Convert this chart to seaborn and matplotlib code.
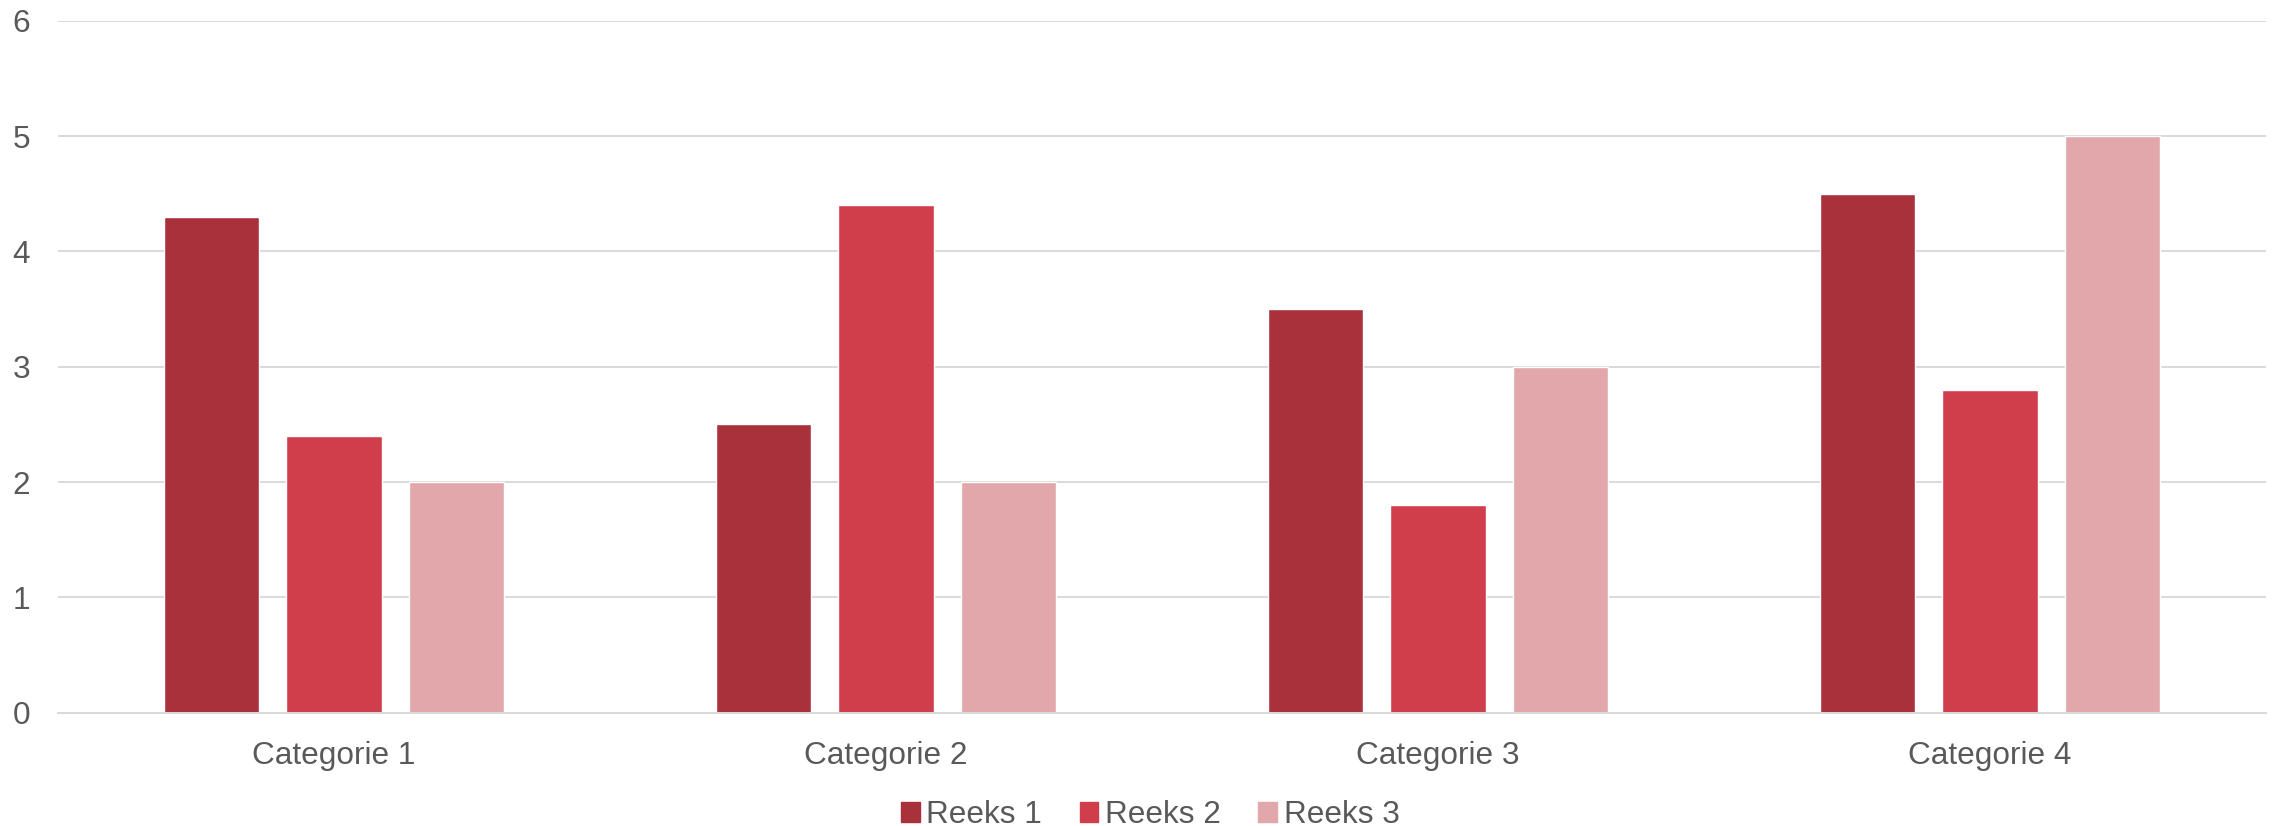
import numpy as np
import pandas as pd
import matplotlib
matplotlib.use("Agg")
import matplotlib.pyplot as plt
import seaborn as sns

categorieen = ["Categorie 1", "Categorie 2", "Categorie 3", "Categorie 4"]
reeksen = ["Reeks 1", "Reeks 2", "Reeks 3"]
reeks1 = [4.3, 2.5, 3.5, 4.5]
reeks2 = [2.4, 4.4, 1.8, 2.8]
reeks3 = [2.0, 2.0, 3.0, 5.0]
kleuren = ["#A9313C", "#D03E4B", "#E2A7AA"]

rows = []
for naam, waarden in zip(reeksen, [reeks1, reeks2, reeks3]):
    for cat, v in zip(categorieen, waarden):
        rows.append({"categorie": cat, "reeks": naam, "waarde": v})
df = pd.DataFrame(rows)

sns.set_theme(style="white")
plt.rcParams['font.family'] = ['Liberation Sans', 'DejaVu Sans']
grijs = "#595959"

fig = plt.figure(figsize=(22.82, 8.26), dpi=100)
ax = fig.add_axes([0.0254, 0.137, 0.9676, 0.838])

sns.barplot(data=df, x="categorie", y="waarde", hue="reeks", palette=kleuren,
            width=0.665, gap=0.22, saturation=1, ax=ax, errorbar=None)

ax.set_ylim(0, 6)
ax.set_yticks(range(0, 7))
ax.set_xlim(-0.5, 3.5)
ax.yaxis.grid(True, color="#D9D9D9", linewidth=1.4)
ax.set_axisbelow(True)
for s in ["top", "right", "left"]:
    ax.spines[s].set_visible(False)
ax.spines["bottom"].set_color("#D9D9D9")
ax.spines["bottom"].set_linewidth(1.4)
ax.set_xlabel("")
ax.set_ylabel("")
ax.tick_params(axis="y", length=0, pad=20, labelsize=22.7, labelcolor=grijs)
ax.tick_params(axis="x", length=0, pad=20, labelsize=22.7, labelcolor=grijs)

ax.legend_.remove()
handles = [plt.Rectangle((0, 0), 1, 1, color=c) for c in kleuren]
fig.legend(handles, reeksen, loc="center", bbox_to_anchor=(0.504, 0.013), ncol=3,
           frameon=False, fontsize=22.7, labelcolor=grijs, handlelength=0.6,
           handleheight=0.6, handletextpad=0.2, columnspacing=1.2)

fig.savefig("out.png", dpi=100)
